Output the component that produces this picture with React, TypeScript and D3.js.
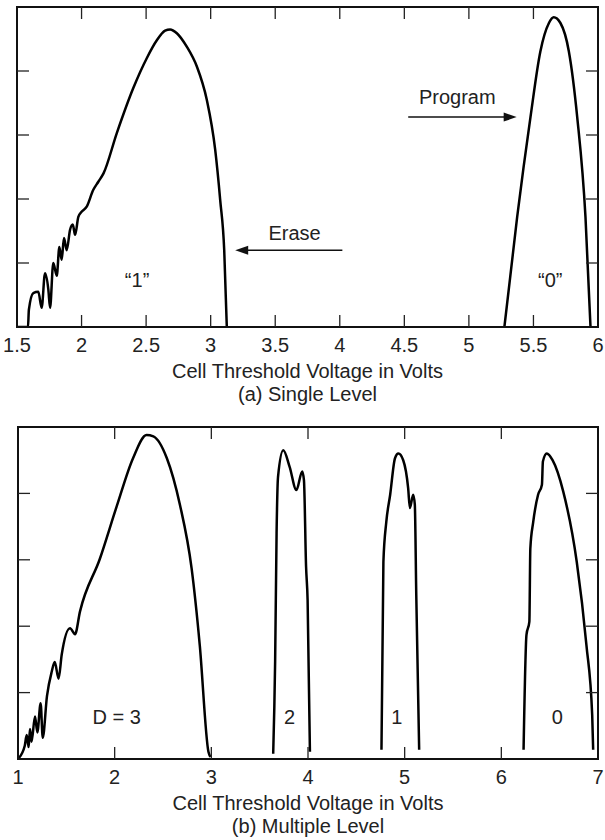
import React, { useEffect, useRef } from 'react';
import * as d3 from 'd3';

type Pt = [number, number];

// (a) single level — [threshold voltage, cell count (relative)]
const singleErased: Pt[] = [
  [1.5, 0], [1.585, 0], [1.592, 0.27], [1.626, 0.53], [1.665, 0.55], [1.691, 0.3],
  [1.717, 0.84], [1.743, 0.58], [1.756, 0.3], [1.781, 1.0], [1.808, 0.8], [1.828, 1.25],
  [1.846, 1.05], [1.864, 1.39], [1.885, 1.2], [1.911, 1.52], [1.932, 1.6], [1.95, 1.44],
  [1.975, 1.72], [2.0, 1.8], [2.04, 1.88], [2.09, 2.14], [2.13, 2.27], [2.17, 2.4],
  [2.273, 3.03], [2.4, 3.73], [2.505, 4.2], [2.583, 4.48], [2.647, 4.63], [2.686, 4.65],
  [2.738, 4.59], [2.815, 4.38], [2.893, 4.07], [2.97, 3.55], [3.035, 2.77], [3.074, 1.98],
  [3.105, 1.2], [3.125, 0],
];
const singleProgrammed: Pt[] = [
  [5.275, 0], [5.374, 1.72], [5.477, 3.28], [5.554, 4.31], [5.62, 4.75], [5.657, 4.84],
  [5.709, 4.75], [5.774, 4.31], [5.839, 3.28], [5.903, 1.72], [5.942, 0],
];
const singleXTicks = [1.5, 2, 2.5, 3, 3.5, 4, 4.5, 5, 5.5, 6];
const singleLabels: [string, number, number][] = [
  ['\u201c1\u201d', 2.43, 0.73],
  ['\u201c0\u201d', 5.63, 0.73],
  ['Program', 4.91, 3.59],
  ['Erase', 3.65, 1.47],
];
// arrows: [from V, to V, level]
const singleArrows: [number, number, number][] = [
  [4.53, 5.37, 3.28],
  [4.02, 3.19, 1.2],
];

// (b) multiple level
const multiD3: Pt[] = [
  [1.0, 0.0], [1.07, 0.2], [1.09, 0.36], [1.11, 0.18], [1.124, 0.45], [1.14, 0.26],
  [1.176, 0.64], [1.2, 0.4], [1.234, 0.84], [1.256, 0.32], [1.3, 0.95], [1.348, 1.31],
  [1.38, 1.46], [1.42, 1.21], [1.452, 1.57], [1.538, 1.97], [1.59, 1.88], [1.641, 2.22],
  [1.848, 3.02], [2.02, 3.8], [2.19, 4.53], [2.33, 4.88], [2.4, 4.86], [2.54, 4.53],
  [2.675, 3.83], [2.796, 2.87], [2.88, 1.72], [2.97, 0.11], [2.99, 0.03],
];
const multiD2: Pt[] = [
  [3.64, 0.08], [3.66, 1.47], [3.675, 3.4], [3.69, 4.25], [3.744, 4.65], [3.81, 4.4],
  [3.88, 4.05], [3.94, 4.33], [3.958, 4.2], [3.98, 2.9], [3.996, 2.39], [4.02, 0.11],
];
const multiD1: Pt[] = [
  [4.76, 0.14], [4.78, 2.97], [4.81, 3.57], [4.85, 3.98], [4.9, 4.53], [4.935, 4.6],
  [4.985, 4.5], [5.036, 4.08], [5.054, 3.78], [5.088, 3.98], [5.105, 3.83], [5.12, 2.47],
  [5.15, 0.14],
];
const multiD0: Pt[] = [
  [6.23, 0.14], [6.26, 1.87], [6.29, 2.07], [6.3, 3.17], [6.33, 3.57], [6.38, 3.98],
  [6.42, 4.13], [6.43, 4.48], [6.47, 4.6], [6.53, 4.5], [6.64, 4.03], [6.78, 2.97],
  [6.88, 1.72], [6.94, 0.66], [6.95, 0.14],
];
const multiXTicks = [1, 2, 3, 4, 5, 6, 7];
const multiLabels: [string, number, number][] = [
  ['D = 3', 2.02, 0.63],
  ['2', 3.81, 0.63],
  ['1', 4.92, 0.63],
  ['0', 6.58, 0.63],
];

const yTicks = [1, 2, 3, 4];
const xTitle = 'Cell Threshold Voltage in Volts';

const FONT = '"Liberation Sans", Arial, Helvetica, sans-serif';
const TEXT = '#222';

function drawPanel(svg: any, id: string, box: any, xDomain: number[], xTicks: number[],
  curves: Pt[][], labels: [string, number, number][], arrows: [number, number, number][], subtitle: string) {
  const x = d3.scaleLinear().domain(xDomain).range([box.left, box.right]);
  const y = d3.scaleLinear().domain([0, 5]).range([box.bottom, box.top]);
  const tick = 12;

  svg.append('clipPath').attr('id', id)
    .append('rect')
    .attr('x', box.left).attr('y', box.top)
    .attr('width', box.right - box.left).attr('height', box.bottom - box.top);

  const line = d3.line<Pt>()
    .x(d => x(d[0]))
    .y(d => y(d[1]))
    .curve(d3.curveMonotoneX);

  const g = svg.append('g').attr('clip-path', `url(#${id})`);
  curves.forEach(c => {
    g.append('path')
      .attr('d', line(c))
      .attr('fill', 'none')
      .attr('stroke', '#000')
      .attr('stroke-width', 2.5)
      .attr('stroke-linejoin', 'round');
  });

  // frame
  svg.append('rect')
    .attr('x', box.left).attr('y', box.top)
    .attr('width', box.right - box.left).attr('height', box.bottom - box.top)
    .attr('fill', 'none').attr('stroke', '#111').attr('stroke-width', 2);

  const inner = xTicks.filter(t => t > xDomain[0] && t < xDomain[1]);
  inner.forEach(t => {
    svg.append('line').attr('x1', x(t)).attr('x2', x(t))
      .attr('y1', box.bottom).attr('y2', box.bottom - tick)
      .attr('stroke', '#222').attr('stroke-width', 1.3);
    svg.append('line').attr('x1', x(t)).attr('x2', x(t))
      .attr('y1', box.top).attr('y2', box.top + tick)
      .attr('stroke', '#222').attr('stroke-width', 1.3);
  });
  yTicks.forEach(t => {
    svg.append('line').attr('x1', box.left).attr('x2', box.left + tick)
      .attr('y1', y(t)).attr('y2', y(t))
      .attr('stroke', '#222').attr('stroke-width', 1.3);
    svg.append('line').attr('x1', box.right).attr('x2', box.right - tick)
      .attr('y1', y(t)).attr('y2', y(t))
      .attr('stroke', '#222').attr('stroke-width', 1.3);
  });

  const text = (s: string, tx: number, ty: number) =>
    svg.append('text')
      .attr('x', tx).attr('y', ty).attr('dy', '0.35em')
      .attr('text-anchor', 'middle')
      .attr('font-family', FONT).attr('font-size', 20)
      .attr('fill', TEXT)
      .text(s);

  xTicks.forEach(t => text(String(t), x(t), box.bottom + 18));
  text(xTitle, (box.left + box.right) / 2, box.bottom + 44);
  text(subtitle, (box.left + box.right) / 2, box.bottom + 67);

  labels.forEach(([s, lx, ly]) => text(s, x(lx), y(ly)));

  arrows.forEach(([from, to, lvl]) => {
    const dir = to > from ? 1 : -1;
    const tip = x(to);
    const yy = y(lvl);
    svg.append('line')
      .attr('x1', x(from)).attr('x2', tip - dir * 8)
      .attr('y1', yy).attr('y2', yy)
      .attr('stroke', '#111').attr('stroke-width', 1.5);
    svg.append('path')
      .attr('d', `M${tip},${yy}L${tip - dir * 13},${yy - 4.5}L${tip - dir * 13},${yy + 4.5}Z`)
      .attr('fill', '#111');
  });
}

export default function App() {
  const ref = useRef<SVGSVGElement>(null);

  useEffect(() => {
    const svg = d3.select(ref.current);
    svg.selectAll('*').remove();
    drawPanel(svg, 'clipA', { left: 17, right: 598, top: 7, bottom: 327 }, [1.5, 6], singleXTicks,
      [singleErased, singleProgrammed], singleLabels, singleArrows, '(a) Single Level');
    drawPanel(svg, 'clipB', { left: 18, right: 598, top: 427, bottom: 759 }, [1, 7], multiXTicks,
      [multiD3, multiD2, multiD1, multiD0], multiLabels, [], '(b) Multiple Level');
  }, []);

  return (
    <svg ref={ref} width={605} height={840}
      style={{ position: 'absolute', left: 0, top: 0, background: '#fff' }} />
  );
}
